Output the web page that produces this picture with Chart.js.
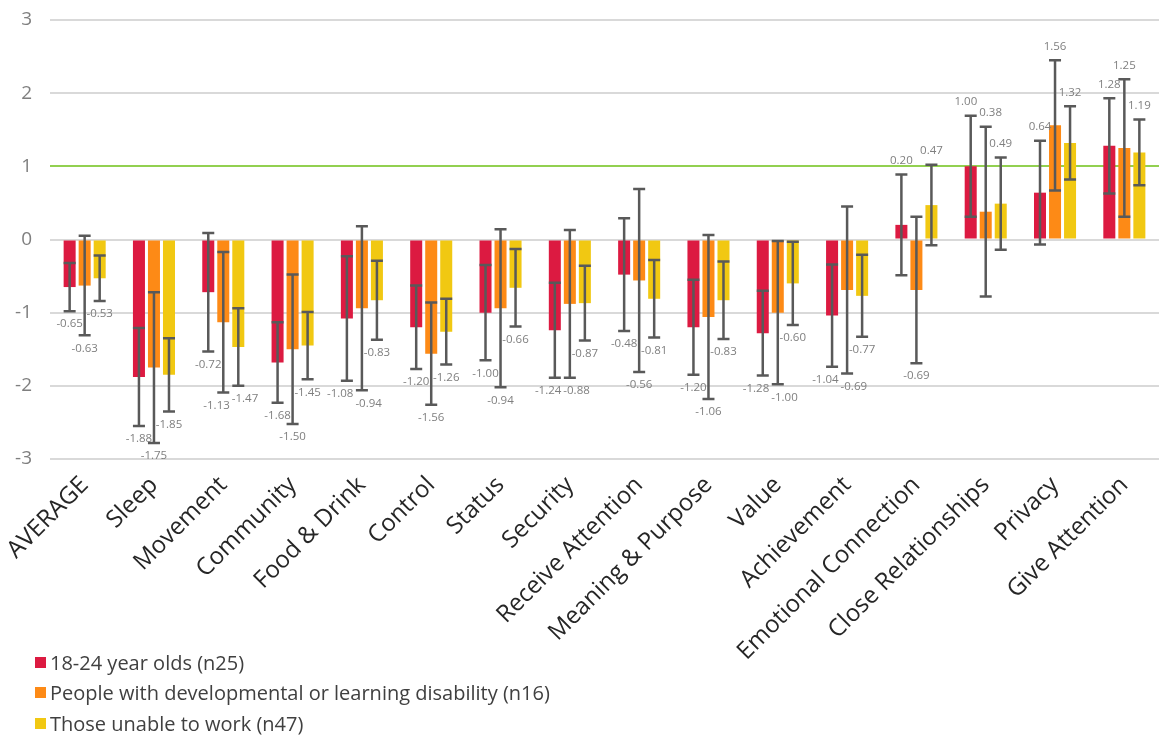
<!DOCTYPE html>
<html>
<head>
<meta charset="utf-8">
<script src="https://cdn.jsdelivr.net/npm/chart.js@4.4.0/dist/chart.umd.min.js"></script>
<style>
  html, body { margin: 0; padding: 0; background: #fff; }
  #wrap { position: relative; width: 1161px; height: 738px; }
  #legend { position: absolute; left: 35px; top: 647px; font-family: 'Open Sans', sans-serif; font-size: 20px; color: #404040; }
  .item { display: flex; align-items: center; height: 30.5px; white-space: nowrap; }
  .sw { width: 11px; height: 11px; margin-right: 4px; flex: none; }
</style>
</head>
<body>
<div id="wrap">
  <canvas id="c" width="1161" height="738"></canvas>
  <div id="legend"></div>
</div>
<script>
// Need categories (average first)
const categories = ['AVERAGE', 'Sleep', 'Movement', 'Community', 'Food & Drink', 'Control', 'Status',
  'Security', 'Receive Attention', 'Meaning & Purpose', 'Value', 'Achievement',
  'Emotional Connection', 'Close Relationships', 'Privacy', 'Give Attention'];

// Mean scores per group
const youngAdults = [-0.65, -1.88, -0.72, -1.68, -1.08, -1.20, -1.00, -1.24, -0.48, -1.20, -1.28, -1.04, 0.20, 1.00, 0.64, 1.28];
const learningDisability = [-0.63, -1.75, -1.13, -1.50, -0.94, -1.56, -0.94, -0.88, -0.56, -1.06, -1.00, -0.69, -0.69, 0.38, 1.56, 1.25];
const unableToWork = [-0.53, -1.85, -1.47, -1.45, -0.83, -1.26, -0.66, -0.87, -0.81, -0.83, -0.60, -0.77, 0.47, 0.49, 1.32, 1.19];

// Half-width of each error bar
const youngAdultsErr = [0.33, 0.67, 0.81, 0.55, 0.85, 0.57, 0.65, 0.65, 0.77, 0.65, 0.58, 0.70, 0.69, 0.69, 0.71, 0.65];
const learningDisabilityErr = [0.68, 1.03, 0.96, 1.02, 1.12, 0.70, 1.08, 1.01, 1.25, 1.12, 0.98, 1.14, 1.00, 1.16, 0.89, 0.94];
const unableToWorkErr = [0.31, 0.50, 0.53, 0.46, 0.54, 0.45, 0.53, 0.51, 0.53, 0.53, 0.57, 0.56, 0.55, 0.63, 0.50, 0.45];

const seriesNames = ['18-24 year olds (n25)', 'People with developmental or learning disability (n16)', 'Those unable to work (n47)'];
const yTicks = [3, 2, 1, 0, -1, -2, -3];

const FONT = "'Open Sans', sans-serif";
const colors = ['#dc1a41', '#fd8a16', '#f1c812'];
const errors = [youngAdultsErr, learningDisabilityErr, unableToWorkErr];

// Error bars and value labels, drawn on top of the bars
const errorBarPlugin = {
  id: 'errorBars',
  afterDatasetsDraw(chart) {
    const ctx = chart.ctx;
    const y = chart.scales.y;
    ctx.save();
    ctx.strokeStyle = '#595959';
    ctx.lineWidth = 2.5;
    chart.data.datasets.forEach((ds, i) => {
      chart.getDatasetMeta(i).data.forEach((bar, j) => {
        const v = ds.data[j];
        const e = errors[i][j];
        const top = y.getPixelForValue(v + e);
        const bot = y.getPixelForValue(v - e);
        const half = bar.width / 2;
        ctx.beginPath();
        ctx.moveTo(bar.x, top); ctx.lineTo(bar.x, bot);
        ctx.moveTo(bar.x - half, top); ctx.lineTo(bar.x + half, top);
        ctx.moveTo(bar.x - half, bot); ctx.lineTo(bar.x + half, bot);
        ctx.stroke();
      });
    });

    // value labels: below the lower whisker for negatives, above the upper one otherwise
    ctx.font = '11.5px ' + FONT;
    ctx.fillStyle = '#7f7f7f';
    ctx.textAlign = 'center';
    ctx.textBaseline = 'middle';
    const n = chart.data.labels.length;
    for (let j = 0; j < n; j++) {
      const items = chart.data.datasets.map((ds, i) => {
        const bar = chart.getDatasetMeta(i).data[j];
        const v = ds.data[j];
        const e = errors[i][j];
        const text = v.toFixed(2);
        return {
          text, x: bar.x, w: ctx.measureText(text).width,
          y: v < 0 ? y.getPixelForValue(v - e) + 13 : y.getPixelForValue(v + e) - 14
        };
      });
      // nudge neighbouring labels apart when they collide
      for (let k = 0; k < items.length - 1; k++) {
        const a = items[k], b = items[k + 1];
        if (Math.abs(a.y - b.y) < 13) {
          const overlap = (a.x + a.w / 2 + 2) - (b.x - b.w / 2);
          if (overlap > 0) { a.x -= overlap / 2; b.x += overlap / 2; }
        }
      }
      items.forEach(it => ctx.fillText(it.text, it.x, it.y));
    }
    ctx.restore();
  }
};

const chart = new Chart(document.getElementById('c'), {
  type: 'bar',
  data: {
    labels: categories,
    datasets: [
      { label: seriesNames[0], data: youngAdults, backgroundColor: colors[0] },
      { label: seriesNames[1], data: learningDisability, backgroundColor: colors[1] },
      { label: seriesNames[2], data: unableToWork, backgroundColor: colors[2] }
    ]
  },
  options: {
    responsive: false,
    animation: false,
    devicePixelRatio: 1,
    layout: { padding: { top: 20, right: 2, left: 0, bottom: 0 } },
    datasets: { bar: { barPercentage: 0.8, categoryPercentage: 0.65 } },
    plugins: { legend: { display: false }, tooltip: { enabled: false } },
    scales: {
      x: {
        grid: { display: false },
        border: { display: false },
        ticks: {
          autoSkip: false, minRotation: 45, maxRotation: 45, padding: 4,
          color: '#262626', font: { family: FONT, size: 24 }
        },
        afterFit(scale) { scale.height = 279; scale.paddingLeft = 0; scale.paddingRight = 0; }
      },
      y: {
        min: -3, max: 3,
        afterBuildTicks(scale) { scale.ticks = yTicks.map(v => ({ value: v })); },
        grid: {
          drawTicks: false, lineWidth: 2,
          color: ctx => (ctx.tick && ctx.tick.value === 1) ? '#92d050' : '#d9d9d9'
        },
        border: { display: false },
        ticks: { padding: 18, color: '#7f7f7f', font: { family: FONT, size: 19 } },
        afterFit(scale) { scale.width = 50; scale.paddingTop = 0; scale.paddingBottom = 0; }
      }
    }
  },
  plugins: [errorBarPlugin]
});

// Legend rows built from the chart's datasets
const legend = document.getElementById('legend');
chart.data.datasets.forEach(ds => {
  const row = document.createElement('div');
  row.className = 'item';
  const sw = document.createElement('span');
  sw.className = 'sw';
  sw.style.background = ds.backgroundColor;
  const t = document.createElement('span');
  t.textContent = ds.label;
  row.appendChild(sw); row.appendChild(t);
  legend.appendChild(row);
});
</script>
</body>
</html>
